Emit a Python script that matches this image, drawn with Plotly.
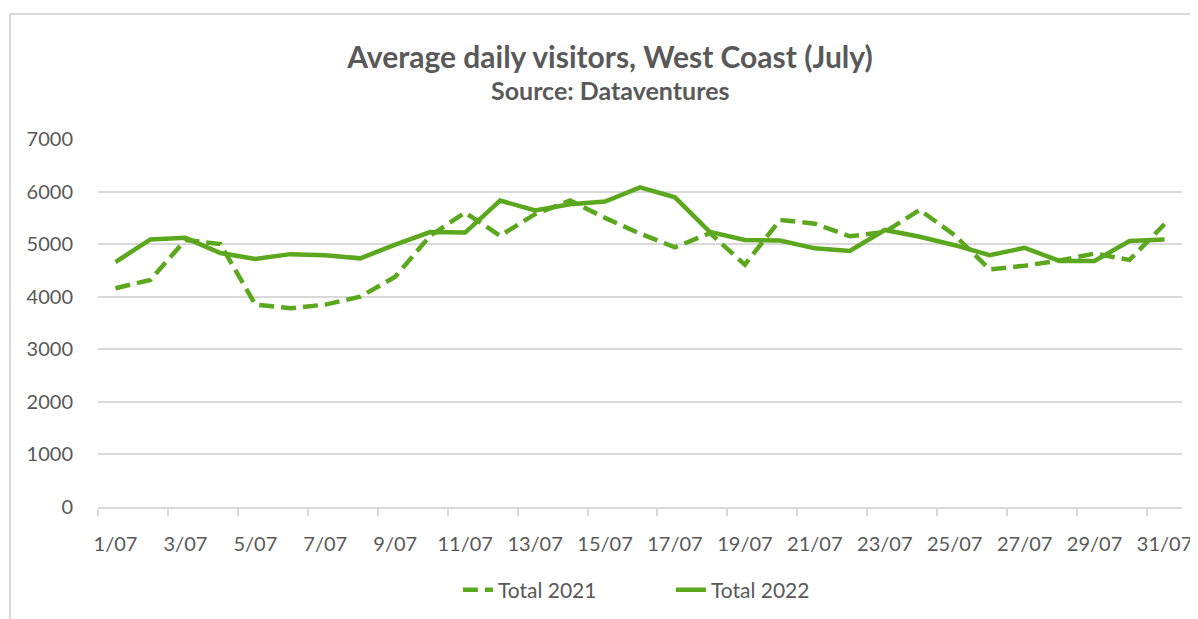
import plotly.graph_objects as go

# Average daily visitors, West Coast, July
days = list(range(1, 32))
day_labels = ["1/07", "2/07", "3/07", "4/07", "5/07", "6/07", "7/07", "8/07",
              "9/07", "10/07", "11/07", "12/07", "13/07", "14/07", "15/07", "16/07",
              "17/07", "18/07", "19/07", "20/07", "21/07", "22/07", "23/07", "24/07",
              "25/07", "26/07", "27/07", "28/07", "29/07", "30/07", "31/07"]

total_2021 = [4160, 4320, 5080, 5000, 3850, 3780, 3850, 4000, 4380, 5160,
              5600, 5160, 5570, 5830, 5500, 5200, 4940, 5210, 4610, 5460,
              5390, 5150, 5230, 5650, 5170, 4520, 4590, 4690, 4820, 4700, 5380]
total_2022 = [4660, 5090, 5120, 4830, 4720, 4810, 4790, 4730, 4990, 5230,
              5220, 5830, 5640, 5760, 5810, 6080, 5890, 5230, 5080, 5070,
              4920, 4870, 5270, 5140, 4980, 4790, 4930, 4680, 4680, 5060, 5090]

green = "#5ba71e"
grey_text = "#595959"
grid = "#d9d9d9"
font_name = "Lato, 'Open Sans', sans-serif"

fig = go.Figure()
fig.add_trace(go.Scatter(x=days, y=total_2021, mode="lines", name="Total 2021",
                         line=dict(color=green, width=4.5, dash="15px,7px")))
fig.add_trace(go.Scatter(x=days, y=total_2022, mode="lines", name="Total 2022",
                         line=dict(color=green, width=4.5)))

fig.update_layout(
    width=1198, height=619,
    margin=dict(l=90, r=24, t=131, b=120),
    paper_bgcolor="white", plot_bgcolor="white",
    font=dict(family=font_name, size=20, color=grey_text),
    title=dict(
        text="<b>Average daily visitors, West Coast (July)</b>",
        x=0.5025, xanchor="center", y=0.9208, yanchor="middle",
        font=dict(family=font_name, size=30, color=grey_text)),
    annotations=[
        dict(text="<b>Source: Dataventures</b>", xref="paper", yref="paper",
             x=0.4723, y=1.1332, xanchor="center", yanchor="middle", showarrow=False,
             font=dict(family=font_name, size=25, color=grey_text)),
    ],
    showlegend=True,
    legend=dict(orientation="h", x=0.332, xanchor="left", y=-0.2255, yanchor="middle",
                font=dict(size=21, color=grey_text), entrywidth=168),
    xaxis=dict(
        range=[0.5, 31.5], tickmode="array", tickvals=days[::2], ticktext=day_labels[::2],
        showgrid=False, zeroline=False, showline=True, linecolor=grid, linewidth=1.5,
        ticks="outside", ticklen=18, tickcolor="rgba(0,0,0,0)", automargin=False,
        minor=dict(tick0=0.5, dtick=2, ticks="outside", ticklen=7, tickcolor=grid,
                   tickwidth=1.5, showgrid=False),
        fixedrange=True),
    yaxis=dict(
        range=[0, 7000], dtick=1000, showgrid=True, gridcolor=grid, gridwidth=1.5,
        zeroline=False, showline=False, ticks="outside", ticklen=20, automargin=False,
        tickcolor="rgba(0,0,0,0)", fixedrange=True),
    shapes=[
        dict(type="line", xref="paper", yref="paper", x0=-0.0812, x1=1.03, y0=1.3397, y1=1.3397,
             line=dict(color=grid, width=2)),
        dict(type="line", xref="paper", yref="paper", x0=-0.0812, x1=-0.0812, y0=-0.4, y1=1.3397,
             line=dict(color=grid, width=2)),
    ],
)

fig.write_html("out.html")
